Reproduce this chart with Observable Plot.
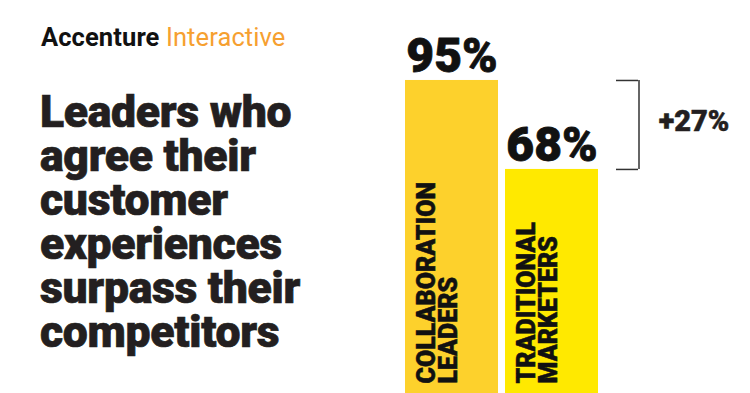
<!DOCTYPE html>
<html>
<head>
<meta charset="utf-8">
<script src="https://cdn.jsdelivr.net/npm/d3@7"></script>
<script src="https://cdn.jsdelivr.net/npm/@observablehq/plot@0.6"></script>
<style>
  html, body { margin: 0; padding: 0; background: #fff; }
  #wrap { position: relative; width: 750px; height: 393px; overflow: hidden; font-family: Roboto, "Liberation Sans", sans-serif; color: #231f20; }
  #brand { position: absolute; left: 41px; top: 25px; font-size: 25.5px; line-height: 25.5px; white-space: nowrap; letter-spacing: 0.1px; }
  #brand b { font-weight: 700; color: #111; }
  #brand span { font-weight: 400; color: #f6a030; }
  #title { position: absolute; left: 40px; top: 89.5px; font-size: 44.5px; line-height: 44px; font-weight: 900; letter-spacing: -0.3px; white-space: nowrap; color: #231f20; -webkit-text-stroke: 0.7px #231f20; }
  #chart { position: absolute; left: 0; top: 0; }
</style>
</head>
<body>
<div id="wrap">
  <div id="brand"><b>Accenture</b> <span>Interactive</span></div>
  <div id="title">Leaders who<br>agree their<br>customer<br>experiences<br>surpass their<br>competitors</div>
  <div id="chart"></div>
</div>
<script>
const categories = ["COLLABORATION LEADERS", "TRADITIONAL MARKETERS"];
const barLabels = ["COLLABORATION\nLEADERS", "TRADITIONAL\nMARKETERS"];
const values = [95, 68];
const colors = ["#fdd12c", "#ffe900"];

const data = categories.map((c, i) => ({cat: c, value: values[i], label: barLabels[i]}));
const diff = values[0] - values[1];
const bracket = [{cat: categories[1], y1: values[1], y2: values[0], mid: (values[0] + values[1]) / 2, text: "+" + diff + "%"}];

const font = "Roboto, 'Liberation Sans', sans-serif";

const plot = Plot.plot({
  width: 750,
  height: 393,
  marginLeft: 404,
  marginRight: 152,
  marginTop: 63.5,
  marginBottom: 0,
  style: {fontFamily: font, background: "transparent", overflow: "visible"},
  x: {domain: categories, paddingInner: 0.07, paddingOuter: 0, axis: null},
  y: {domain: [0, 100], axis: null},
  color: {domain: categories, range: colors},
  marks: [
    Plot.barY(data, {x: "cat", y: "value", fill: "cat"}),
    Plot.text(data, {x: "cat", y: "value", text: d => d.value + "%", lineAnchor: "bottom", dy: -8, fontSize: 48, fontWeight: 900, fill: "#111", stroke: "#111", strokeWidth: 0.8, textAnchor: "middle"}),
    Plot.text(data, {x: "cat", y: 0, text: "label", rotate: -90, textAnchor: "start", lineAnchor: "top", lineHeight: 0.88, dx: -33, dy: -10, fontSize: 25, fontWeight: 900, fill: "#111", stroke: "#111", strokeWidth: 0.5}),
    Plot.ruleY(values, {y: d => d, insetLeft: 212, insetRight: -40, stroke: "#333", strokeWidth: 1.5}),
    Plot.ruleX(bracket, {x: "cat", y1: "y1", y2: "y2", dx: 87, stroke: "#333", strokeWidth: 1.5}),
    Plot.text(bracket, {x: "cat", y: "mid", text: "text", dx: 142, dy: -3, lineAnchor: "middle", textAnchor: "middle", fontSize: 29, fontWeight: 900, fill: "#231f20", stroke: "#231f20", strokeWidth: 0.5})
  ]
});
document.getElementById("chart").appendChild(plot);
</script>
</body>
</html>
